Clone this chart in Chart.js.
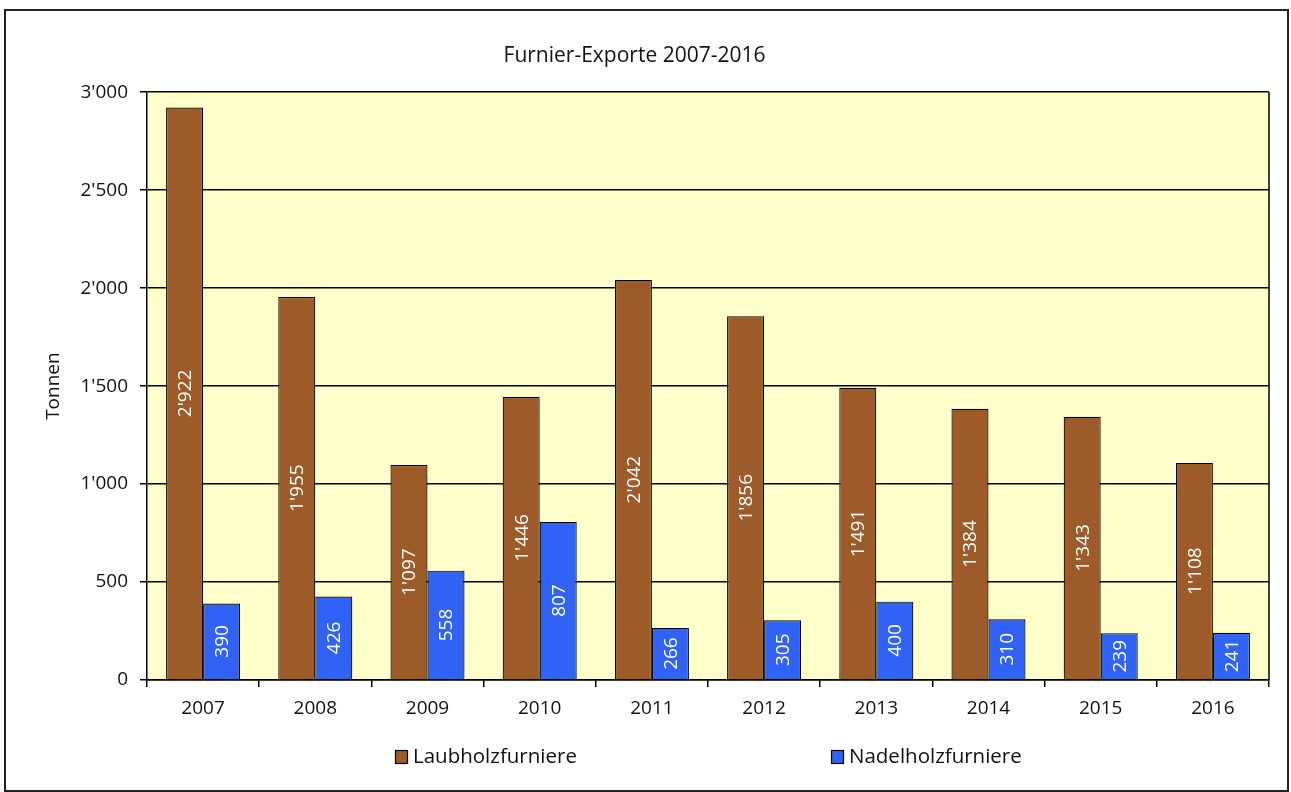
<!DOCTYPE html>
<html>
<head>
<meta charset="utf-8">
<script src="https://cdn.jsdelivr.net/npm/chart.js@4.4.0/dist/chart.umd.min.js"></script>
<style>
  html, body { margin: 0; padding: 0; background: #fff; }
  #wrap { width: 1291px; height: 792px; }
</style>
</head>
<body>
<div id="wrap"><canvas id="chart"></canvas></div>
<script>
const years = ["2007","2008","2009","2010","2011","2012","2013","2014","2015","2016"]
const laubholz = [2922,1955,1097,1446,2042,1856,1491,1384,1343,1108]
const nadelholz = [390,426,558,807,266,305,400,310,239,241]
const seriesNames = ["Laubholzfurniere","Nadelholzfurniere"]
const seriesColors = ["#9c5b29","#2f62f5"]

const FONT = "'Open Sans', sans-serif"

// 1234 -> 1'234
const fmt = v => String(Math.round(v)).replace(/\B(?=(\d{3})+(?!\d))/g, "'")

// yellow plot background, outer frame, right border
const framePlugin = {
    id: "frame",
    beforeDraw(chart) {
        const {ctx, chartArea: a} = chart
        ctx.save()
        ctx.fillStyle = "#fff"
        ctx.fillRect(0, 0, chart.width, chart.height)
        ctx.fillStyle = "#ffffcc"
        ctx.fillRect(a.left, a.top, a.right - a.left, a.bottom - a.top)
        ctx.restore()
    },
    afterDraw(chart) {
        const {ctx, chartArea: a} = chart
        ctx.save()
        ctx.strokeStyle = "#000"
        ctx.lineWidth = 1.5
        ctx.beginPath()
        ctx.moveTo(a.right, a.top)
        ctx.lineTo(a.right, a.bottom)
        ctx.stroke()
        ctx.lineWidth = 2
        ctx.strokeStyle = "#222"
        ctx.strokeRect(5, 10, 1283, 781)
        ctx.restore()
    }
}

// rotated white value labels in the middle of each bar
const barLabels = {
    id: "barLabels",
    afterDatasetsDraw(chart) {
        const ctx = chart.ctx
        ctx.save()
        ctx.fillStyle = "#fff"
        ctx.font = "19px " + FONT
        ctx.textAlign = "center"
        ctx.textBaseline = "middle"
        chart.data.datasets.forEach((ds, i) => {
            chart.getDatasetMeta(i).data.forEach((bar, j) => {
                const cy = (bar.y + bar.base) / 2
                ctx.save()
                ctx.translate(bar.x, cy)
                ctx.rotate(-Math.PI / 2)
                ctx.fillText(fmt(ds.data[j]), 0, 1)
                ctx.restore()
            })
        })
        ctx.restore()
    }
}

// legend spread wide like the original
const wideLegend = {
    id: "wideLegend",
    afterDraw(chart) {
        const ctx = chart.ctx
        const xs = [395, 831]
        const y = 757
        ctx.save()
        ctx.font = "20.5px " + FONT
        ctx.textBaseline = "middle"
        chart.data.datasets.forEach((ds, i) => {
            ctx.fillStyle = ds.backgroundColor
            ctx.fillRect(xs[i], y - 7, 13, 14)
            ctx.strokeStyle = "#000"
            ctx.lineWidth = 1.2
            ctx.strokeRect(xs[i] + 0.5, y - 6.5, 12, 13)
            ctx.fillStyle = "#111"
            ctx.fillText(ds.label, xs[i] + 18, y)
        })
        ctx.restore()
    }
}

new Chart(document.getElementById("chart"), {
    type: "bar",
    plugins: [framePlugin, barLabels, wideLegend],
    data: {
        labels: years,
        datasets: [
            {
                label: seriesNames[0],
                data: laubholz,
                backgroundColor: seriesColors[0],
                borderColor: "#000",
                borderWidth: 1.2,
                categoryPercentage: 0.66,
                barPercentage: 1.0
            },
            {
                label: seriesNames[1],
                data: nadelholz,
                backgroundColor: seriesColors[1],
                borderColor: "#000",
                borderWidth: 1.2,
                categoryPercentage: 0.66,
                barPercentage: 1.0
            }
        ]
    },
    options: {
        responsive: true,
        maintainAspectRatio: false,
        animation: false,
        layout: { padding: { top: 20, right: 22, bottom: 62, left: 0 } },
        plugins: {
            legend: { display: false },
            tooltip: { enabled: false },
            title: {
                display: true,
                text: "Furnier-Exporte 2007-2016",
                color: "#111",
                font: { family: FONT, size: 21, weight: "normal" },
                padding: { top: 23, bottom: 24 }
            }
        },
        scales: {
            x: {
                afterFit: s => { s.height = 50 },
                grid: {
                    offset: true,
                    drawOnChartArea: false,
                    drawTicks: true,
                    tickLength: 7,
                    color: "#000",
                    lineWidth: 1.5
                },
                border: { color: "#000", width: 1.5 },
                ticks: {
                    color: "#111",
                    font: { family: FONT, size: 19 },
                    padding: 10
                }
            },
            y: {
                min: 0,
                max: 3000,
                afterFit: s => { s.width = 147 },
                grid: {
                    color: "#000",
                    lineWidth: 1.5,
                    tickLength: 7
                },
                border: { color: "#000", width: 1.5 },
                ticks: {
                    stepSize: 500,
                    color: "#111",
                    font: { family: FONT, size: 19 },
                    padding: 12,
                    callback: v => fmt(v)
                },
                title: {
                    display: true,
                    text: "Tonnen",
                    color: "#111",
                    font: { family: FONT, size: 19 },
                    padding: { top: 42 }
                }
            }
        }
    }
})
</script>
</body>
</html>
